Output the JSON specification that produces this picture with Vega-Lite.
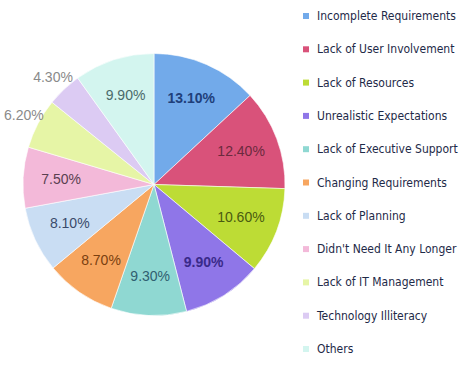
{
  "$schema": "https://vega.github.io/schema/vega-lite/v6.json",
  "width": 308,
  "height": 369,
  "autosize": {"type": "none"},
  "padding": {"left": 0, "top": 0, "right": 166, "bottom": 0},
  "background": "white",
  "view": {"stroke": null},
  "data": {
    "values": [
      {"idx": 1, "cat": "Incomplete Requirements", "pct": 13.1, "label": "13.10%"},
      {"idx": 2, "cat": "Lack of User Involvement", "pct": 12.4, "label": "12.40%"},
      {"idx": 3, "cat": "Lack of Resources", "pct": 10.6, "label": "10.60%"},
      {"idx": 4, "cat": "Unrealistic Expectations", "pct": 9.9, "label": "9.90%"},
      {"idx": 5, "cat": "Lack of Executive Support", "pct": 9.3, "label": "9.30%"},
      {"idx": 6, "cat": "Changing Requirements", "pct": 8.7, "label": "8.70%"},
      {"idx": 7, "cat": "Lack of Planning", "pct": 8.1, "label": "8.10%"},
      {"idx": 8, "cat": "Didn't Need It Any Longer", "pct": 7.5, "label": "7.50%"},
      {"idx": 9, "cat": "Lack of IT Management", "pct": 6.2, "label": "6.20%"},
      {"idx": 10, "cat": "Technology Illiteracy", "pct": 4.3, "label": "4.30%"},
      {"idx": 11, "cat": "Others", "pct": 9.9, "label": "9.90%"}
    ]
  },
  "encoding": {
    "theta": {"field": "pct", "type": "quantitative", "stack": true},
    "order": {"field": "idx", "type": "quantitative"}
  },
  "layer": [
    {
      "mark": {"type": "arc", "outerRadius": 131, "stroke": "white", "strokeWidth": 0.6},
      "encoding": {
        "color": {
          "field": "cat",
          "type": "nominal",
          "scale": {
            "domain": ["Incomplete Requirements", "Lack of User Involvement", "Lack of Resources", "Unrealistic Expectations", "Lack of Executive Support", "Changing Requirements", "Lack of Planning", "Didn't Need It Any Longer", "Lack of IT Management", "Technology Illiteracy", "Others"],
            "range": ["#72aaea", "#d9527a", "#bddc35", "#8f76e8", "#8fd8d2", "#f7a660", "#c9ddf3", "#f3b9d9", "#e6f5a6", "#dccbf3", "#d3f5ef"]
          },
          "legend": {
            "orient": "none",
            "legendX": 300,
            "legendY": 10,
            "title": null,
            "symbolType": "square",
            "symbolSize": 36,
            "symbolStrokeWidth": 0,
            "labelFont": "DejaVu Sans Condensed",
            "labelFontSize": 12,
            "labelColor": "#1e2a48",
            "labelOffset": 5,
            "labelLimit": 200,
            "rowPadding": 21.3
          }
        }
      }
    },
    {
      "mark": {"type": "text", "radius": 93, "font": "Liberation Sans, sans-serif", "fontSize": 14},
      "encoding": {
        "text": {"condition": {"test": "datum.pct >= 7 && datum.idx != 1 && datum.idx != 4", "field": "label"}, "value": ""},
        "color": {
          "field": "cat",
          "type": "nominal",
          "legend": null,
          "scale": {
            "domain": ["Incomplete Requirements", "Lack of User Involvement", "Lack of Resources", "Unrealistic Expectations", "Lack of Executive Support", "Changing Requirements", "Lack of Planning", "Didn't Need It Any Longer", "Lack of IT Management", "Technology Illiteracy", "Others"],
            "range": ["#1f3f7a", "#6b2a3e", "#4a5a10", "#3a2a8a", "#2f6070", "#7a4010", "#3a4a6a", "#5a4050", "#808080", "#808080", "#4a6a6a"]
          }
        }
      }
    },
    {
      "mark": {"type": "text", "radius": 93, "font": "Liberation Sans, sans-serif", "fontSize": 14, "fontWeight": "bold"},
      "encoding": {
        "text": {"condition": {"test": "datum.idx == 1 || datum.idx == 4", "field": "label"}, "value": ""},
        "color": {
          "field": "cat",
          "type": "nominal",
          "legend": null,
          "scale": {
            "domain": ["Incomplete Requirements", "Lack of User Involvement", "Lack of Resources", "Unrealistic Expectations", "Lack of Executive Support", "Changing Requirements", "Lack of Planning", "Didn't Need It Any Longer", "Lack of IT Management", "Technology Illiteracy", "Others"],
            "range": ["#1f3f7a", "#6b2a3e", "#4a5a10", "#3a2a8a", "#2f6070", "#7a4010", "#3a4a6a", "#5a4050", "#808080", "#808080", "#4a6a6a"]
          }
        }
      }
    },
    {
      "mark": {"type": "text", "radius": 147, "font": "Liberation Sans, sans-serif", "fontSize": 14, "color": "#8a8a8a"},
      "encoding": {
        "text": {"condition": {"test": "datum.pct < 7", "field": "label"}, "value": ""}
      }
    }
  ],
  "resolve": {"scale": {"color": "independent"}, "legend": {"color": "independent"}}
}
